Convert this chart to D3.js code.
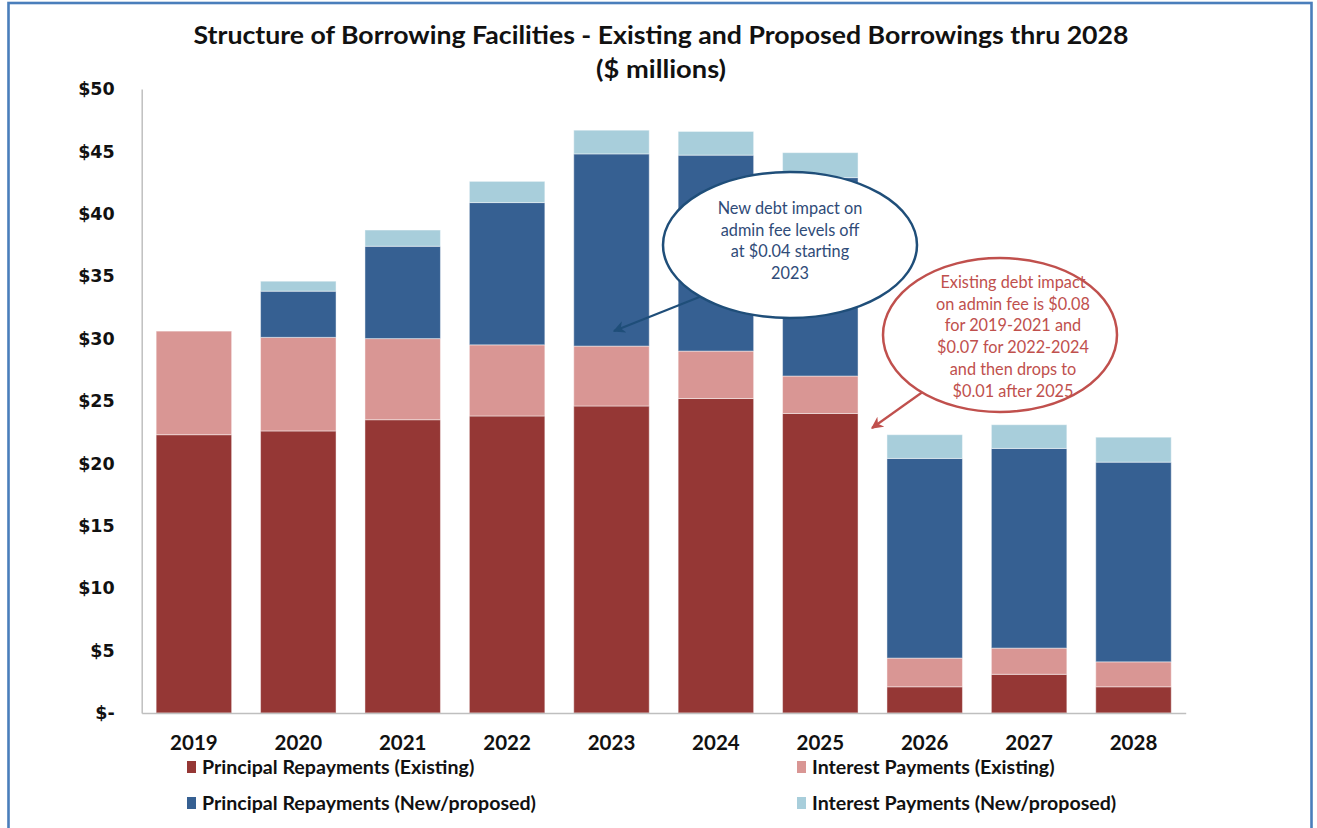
<!DOCTYPE html>
<html>
<head>
<meta charset="utf-8">
<script src="https://cdn.jsdelivr.net/npm/d3@7/dist/d3.min.js"></script>
<style>
  html, body { margin: 0; padding: 0; background: #fff; }
  svg { display: block; }
</style>
</head>
<body>
<svg id="chart" width="1317" height="828"></svg>
<script>
// Borrowing schedule, $ millions
const years = ["2019", "2020", "2021", "2022", "2023", "2024", "2025", "2026", "2027", "2028"];
const principalExisting = [22.3, 22.6, 23.5, 23.8, 24.6, 25.2, 24.0, 2.1, 3.1, 2.1];
const interestExisting  = [8.3, 7.5, 6.5, 5.7, 4.8, 3.8, 3.0, 2.3, 2.1, 2.0];
const principalNew      = [0, 3.7, 7.4, 11.4, 15.4, 15.7, 15.9, 16.0, 16.0, 16.0];
const interestNew       = [0, 0.8, 1.3, 1.7, 1.9, 1.9, 2.0, 1.9, 1.9, 2.0];

const seriesNames = [
  "Principal Repayments (Existing)",
  "Interest Payments (Existing)",
  "Principal Repayments (New/proposed)",
  "Interest Payments (New/proposed)"
];
const yTicks = [0, 5, 10, 15, 20, 25, 30, 35, 40, 45, 50];

const titleLines = [
  "Structure of Borrowing Facilities - Existing and Proposed Borrowings thru 2028",
  "($ millions)"
];
const newDebtNote = ["New debt impact on", "admin fee levels off", "at $0.04 starting", "2023"];
const existingDebtNote = ["Existing debt impact", "on admin fee is $0.08", "for 2019-2021 and",
  "$0.07 for 2022-2024", "and then drops to", "$0.01 after 2025"];

const colors = ["#953735", "#D99694", "#366092", "#A8CEDB"];
const keys = ["pe", "ie", "pn", "in"];

const rows = years.map((y, i) => ({
  year: y,
  pe: principalExisting[i],
  ie: interestExisting[i],
  pn: principalNew[i],
  in: interestNew[i]
}));

const svg = d3.select("#chart");
const font = "Lato, 'Open Sans', sans-serif";

// outer frame
svg.append("rect")
  .attr("x", 8.5).attr("y", 3).attr("width", 1303).attr("height", 840)
  .attr("fill", "none").attr("stroke", "#4A7EBB").attr("stroke-width", 2.6);

const plot = { left: 141.7, right: 1185.7, top: 89, bottom: 713 };

const x = d3.scaleBand()
  .domain(years)
  .range([plot.left, plot.right])
  .paddingInner(0.277)
  .paddingOuter(0.1385);

const y = d3.scaleLinear()
  .domain([0, 50])
  .range([plot.bottom, plot.top]);

// title (two centred lines, stretched to the condensed title width)
const titleWidths = [935, 130];
svg.append("g").selectAll("text")
  .data(titleLines)
  .join("text")
  .attr("x", 661)
  .attr("y", (d, i) => 44 + i * 34)
  .attr("text-anchor", "middle")
  .attr("font-family", font)
  .attr("font-weight", 700)
  .attr("font-size", 24)
  .attr("textLength", (d, i) => titleWidths[i])
  .attr("lengthAdjust", "spacingAndGlyphs")
  .attr("fill", "#111")
  .text(d => d);

// stacked bars
const stacked = d3.stack().keys(keys)(rows);
svg.append("g")
  .selectAll("g")
  .data(stacked)
  .join("g")
  .attr("fill", (d, i) => colors[i])
  .selectAll("rect")
  .data(d => d)
  .join("rect")
  .attr("x", d => x(d.data.year))
  .attr("width", x.bandwidth())
  .attr("y", d => y(d[1]))
  .attr("height", d => Math.max(0, y(d[0]) - y(d[1])))
  .attr("stroke", "#ffffff")
  .attr("stroke-opacity", 0.45)
  .attr("stroke-width", 1);

// y axis
const yAxis = svg.append("g")
  .attr("transform", `translate(${plot.left},0)`)
  .call(d3.axisLeft(y)
    .tickValues(yTicks)
    .tickSize(0)
    .tickPadding(27)
    .tickFormat(d => d === 0 ? "$-" : "$" + d));
yAxis.select(".domain").attr("stroke", "#BFBFBF").attr("stroke-width", 1.5);
yAxis.selectAll("text")
  .attr("font-family", "'DejaVu Sans', sans-serif")
  .attr("font-weight", 700)
  .attr("font-size", 17.5)
  .attr("fill", "#111");

// x axis
const xAxis = svg.append("g")
  .attr("transform", `translate(0,${plot.bottom})`)
  .call(d3.axisBottom(x).tickSize(0).tickPadding(22));
xAxis.select(".domain").attr("stroke", "#BFBFBF").attr("stroke-width", 1.5);
xAxis.selectAll("text")
  .attr("font-family", font)
  .attr("font-weight", 700)
  .attr("font-size", 20.5)
  .attr("fill", "#111");

// legend
const legendPos = [[187, 767], [797, 767], [187, 803], [797, 803]];
const legend = svg.append("g").selectAll("g")
  .data(seriesNames)
  .join("g")
  .attr("transform", (d, i) => `translate(${legendPos[i][0]},${legendPos[i][1]})`);
legend.append("rect")
  .attr("x", 0).attr("y", -6).attr("width", 9).attr("height", 12)
  .attr("fill", (d, i) => colors[i]);
legend.append("text")
  .attr("x", 15).attr("y", 7)
  .attr("font-family", font)
  .attr("font-weight", 700)
  .attr("font-size", 19.6)
  .attr("fill", "#111")
  .text(d => d);

// arrow markers
const defs = svg.append("defs");
[["arrowBlue", "#1F4E79"], ["arrowRed", "#C0504D"]].forEach(([id, c]) => {
  defs.append("marker")
    .attr("id", id)
    .attr("viewBox", "0 0 10 10")
    .attr("refX", 9).attr("refY", 5)
    .attr("markerWidth", 5.5).attr("markerHeight", 5.5)
    .attr("orient", "auto")
    .append("path")
    .attr("d", "M0,0 L10,5 L0,10 L3,5 Z")
    .attr("fill", c);
});

// callout: new debt
svg.append("line")
  .attr("x1", 712).attr("y1", 292).attr("x2", 614).attr("y2", 331)
  .attr("stroke", "#1F4E79").attr("stroke-width", 2.2)
  .attr("marker-end", "url(#arrowBlue)");
svg.append("ellipse")
  .attr("cx", 790).attr("cy", 245).attr("rx", 127).attr("ry", 73)
  .attr("fill", "#fff").attr("stroke", "#1F4E79").attr("stroke-width", 2.5);
svg.append("g").selectAll("text")
  .data(newDebtNote)
  .join("text")
  .attr("x", 790)
  .attr("y", (d, i) => 214 + i * 21.7)
  .attr("text-anchor", "middle")
  .attr("font-family", font)
  .attr("font-size", 16.3)
  .attr("fill", "#2F4B78")
  .text(d => d);

// callout: existing debt
svg.append("line")
  .attr("x1", 924).attr("y1", 391).attr("x2", 872).attr("y2", 428)
  .attr("stroke", "#C0504D").attr("stroke-width", 2.2)
  .attr("marker-end", "url(#arrowRed)");
svg.append("ellipse")
  .attr("cx", 1000).attr("cy", 335).attr("rx", 117).attr("ry", 77)
  .attr("fill", "#fff").attr("stroke", "#C0504D").attr("stroke-width", 2.5);
svg.append("g").selectAll("text")
  .data(existingDebtNote)
  .join("text")
  .attr("x", 1013)
  .attr("y", (d, i) => 288 + i * 21.7)
  .attr("text-anchor", "middle")
  .attr("font-family", font)
  .attr("font-size", 16.3)
  .attr("fill", "#C0504D")
  .text(d => d);
</script>
</body>
</html>
